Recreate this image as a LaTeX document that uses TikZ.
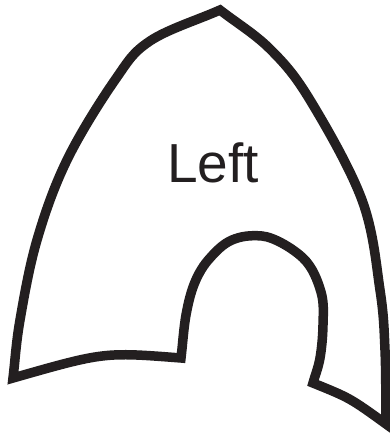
\documentclass[tikz,border=0pt]{standalone}
\usepackage{fontspec}
\setmainfont{Liberation Sans}
\definecolor{ink}{HTML}{231F20}
\tikzset{outline/.style={draw=ink, line width=9.5pt, line join=miter, miter limit=10}}
\begin{document}
\begin{tikzpicture}[x=1pt,y=-1pt]
\useasboundingbox (0,0) rectangle (390,434);
\fill[white] (0,0) rectangle (390,434);
\path[outline]
  (13,378)
  .. controls (15.3,358.7) and (16,343) .. (20,320)
  .. controls (24,297) and (29.2,266.7) .. (37,240)
  .. controls (44.8,213.3) and (54,186.7) .. (67,160)
  .. controls (80,133.3) and (101.2,99.8) .. (115,80)
  .. controls (128.8,60.2) and (132.5,52.7) .. (150,41)
  .. controls (167.5,29.3) and (196.7,20.3) .. (220,10)
  .. controls (236.7,23) and (255,34) .. (270,49)
  .. controls (285,64) and (294.7,74.8) .. (310,100)
  .. controls (325.3,125.2) and (350.3,168.3) .. (362,200)
  .. controls (373.7,231.7) and (376.2,265) .. (380,290)
  .. controls (383.8,315) and (384,327.7) .. (385,350)
  .. controls (386,372.3) and (385.7,399.3) .. (386,424)
  .. controls (350,398) .. (313,383)
  .. controls (315.3,374.7) and (318.3,367.7) .. (320,358)
  .. controls (321.7,348.3) and (322.8,336) .. (323,325)
  .. controls (323.2,314) and (324.3,303.2) .. (321,292)
  .. controls (317.7,280.8) and (312.8,267.3) .. (303,258)
  .. controls (293.2,248.7) and (274,237) .. (262,236)
  .. controls (250,235) and (240.7,236.3) .. (232,240)
  .. controls (223.3,243.7) and (216.2,251) .. (210,258)
  .. controls (203.8,264.7) and (199,272.5) .. (195,282)
  .. controls (191,291.5) and (188.3,302.3) .. (186,315)
  .. controls (183.7,327.7) and (182.7,343.7) .. (181,358)
  .. controls (104,352) .. cycle;
\node[anchor=base, inner sep=0pt, text=ink, font=\fontsize{55}{60}\selectfont] (lbl) at (213,182) {Left};
\end{tikzpicture}
\end{document}
